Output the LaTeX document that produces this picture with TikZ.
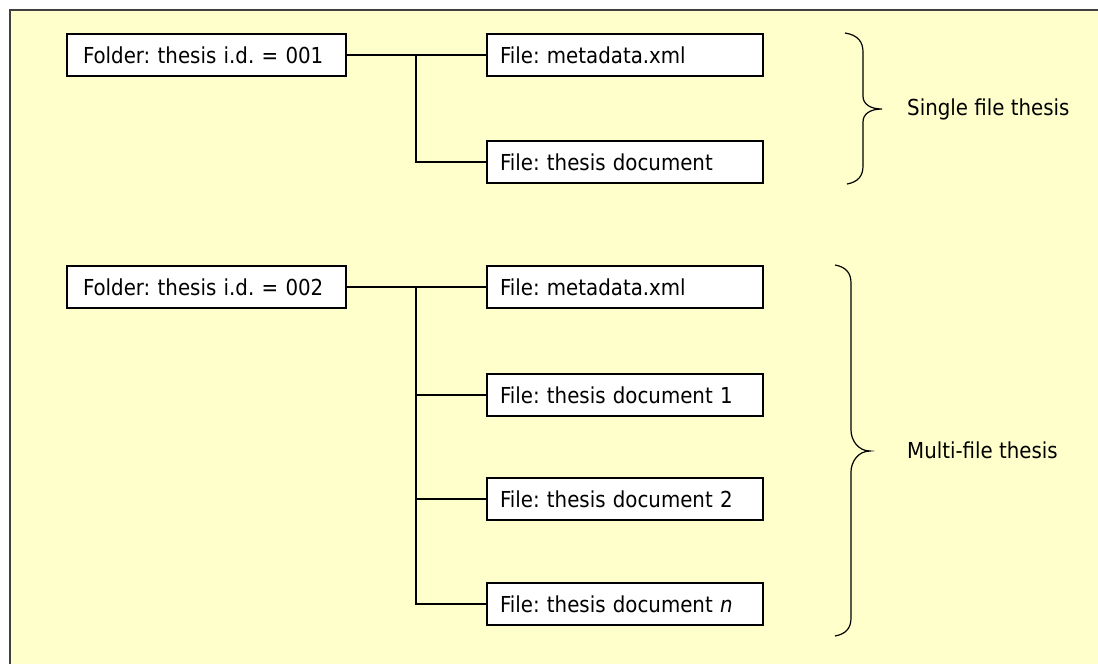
\documentclass[tikz,border=0pt]{standalone}
\usepackage{fontspec}
\setmainfont{DejaVu Sans Condensed}
\definecolor{bgyellow}{HTML}{FFFFCC}
\definecolor{framegray}{HTML}{404040}
\begin{document}
\frenchspacing
\begin{tikzpicture}[x=1pt,y=-1pt,
  box/.style={draw=black,line width=1.3pt,fill=white,minimum height=42pt,
    text width=#1,inner xsep=13pt,inner ysep=0pt,align=left,
    font=\fontsize{22}{26}\selectfont},
  link/.style={draw=black,line width=1.3pt},
  bracepath/.style={draw=black,line width=1.2pt},
  lbl/.style={anchor=west,inner sep=0pt,font=\fontsize{22}{26}\selectfont}]
\useasboundingbox (0,0) rectangle (1098,664);
\fill[white] (0,0) rectangle (1098,664);
\fill[bgyellow] (10,10) rectangle (1100,666);
\draw[framegray,line width=2.4pt] (10,668) -- (10,10) -- (1102,10);
% first folder
\node[box=247pt,inner xsep=16pt] (f1) at (206.5,55) {Folder: thesis i.d. = 001};
\node[box=250pt] (m1) at (625,55) {File: metadata.xml};
\node[box=250pt] (d1) at (625,162) {File: thesis document};
\coordinate (j1) at (416,55);
\draw[link] (f1.east) -- (m1.west);
\draw[link] (j1) |- (d1.west);
% second folder
\node[box=247pt,inner xsep=16pt] (f2) at (206.5,287) {Folder: thesis i.d. = 002};
\node[box=250pt] (m2) at (625,287) {File: metadata.xml};
\node[box=250pt] (e1) at (625,395) {File: thesis document 1};
\node[box=250pt] (e2) at (625,499) {File: thesis document 2};
\node[box=250pt] (en) at (625,604) {File: thesis document \textit{n}};
\coordinate (j2) at (416,287);
\draw[link] (f2.east) -- (m2.west);
\draw[link] (j2) |- (en.west);
\draw[link] (j2 |- e1.west) -- (e1.west);
\draw[link] (j2 |- e2.west) -- (e2.west);
% braces
\draw[bracepath] (845,33) .. controls (858,35) and (863,42) .. (863,52) -- (863,96)
  .. controls (863,104) and (870,109) .. (882,109)
  .. controls (870,109) and (863,114) .. (863,122) -- (863,166)
  .. controls (863,176) and (858,182) .. (847,184);
\draw[bracepath] (835,265) .. controls (846,267) and (851,273) .. (851,283) -- (851,430)
  .. controls (851,440) and (858,451) .. (870,451)
  .. controls (858,451) and (851,462) .. (851,472) -- (851,618)
  .. controls (851,628) and (846,634) .. (835,636);
\node[lbl] (s1) at (907,109) {Single file thesis};
\node[lbl] (s2) at (907,450) {Multi-file thesis};
\end{tikzpicture}
\end{document}
